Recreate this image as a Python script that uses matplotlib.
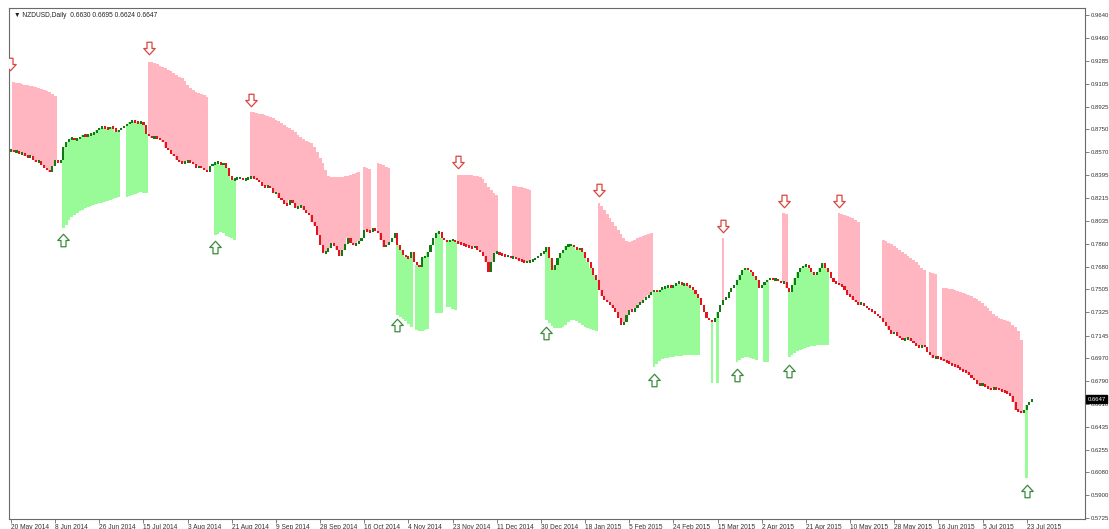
import numpy as np
import matplotlib
matplotlib.use("Agg")
import matplotlib.pyplot as plt
from matplotlib.path import Path
from matplotlib.transforms import blended_transform_factory

# ---------------- data ----------------
close = [
    0.8590,0.8574,0.8582,0.8559,0.8567,0.8543,0.8535,0.8543,0.8512,0.8496,0.8504,0.8473,0.8450,0.8434,0.8418,0.8465,
    0.8512,0.8489,0.8512,0.8613,0.8652,0.8675,0.8683,0.8667,0.8675,0.8691,0.8706,0.8698,0.8706,0.8714,0.8722,0.8745,
    0.8761,0.8768,0.8761,0.8753,0.8768,0.8761,0.8730,0.8745,0.8761,0.8776,0.8792,0.8807,0.8815,0.8807,0.8800,0.8807,
    0.8784,0.8714,0.8698,0.8683,0.8691,0.8683,0.8667,0.8652,0.8605,0.8590,0.8559,0.8543,0.8512,0.8496,0.8489,0.8496,
    0.8504,0.8496,0.8481,0.8450,0.8465,0.8450,0.8434,0.8418,0.8465,0.8481,0.8489,0.8496,0.8473,0.8489,0.8450,0.8387,
    0.8356,0.8364,0.8372,0.8372,0.8356,0.8364,0.8372,0.8380,0.8372,0.8356,0.8341,0.8310,0.8302,0.8310,0.8294,0.8255,
    0.8255,0.8217,0.8201,0.8170,0.8162,0.8201,0.8178,0.8139,0.8147,0.8154,0.8123,0.8100,0.8084,0.8030,0.7999,0.7929,
    0.7851,0.7789,0.7797,0.7828,0.7866,0.7843,0.7812,0.7765,0.7812,0.7858,0.7905,0.7866,0.7851,0.7858,0.7882,0.7905,
    0.7967,0.7960,0.7952,0.7983,0.7960,0.7944,0.7890,0.7835,0.7851,0.7874,0.7905,0.7944,0.7851,0.7812,0.7773,0.7757,
    0.7750,0.7796,0.7718,0.7695,0.7680,0.7757,0.7757,0.7796,0.7851,0.7905,0.7944,0.7952,0.7905,0.7890,0.7874,0.7890,
    0.7890,0.7874,0.7866,0.7858,0.7851,0.7843,0.7835,0.7828,0.7843,0.7812,0.7796,0.7765,0.7718,0.7640,0.7718,0.7789,
    0.7789,0.7781,0.7773,0.7765,0.7765,0.7750,0.7757,0.7742,0.7734,0.7726,0.7718,0.7718,0.7726,0.7734,0.7750,0.7765,
    0.7789,0.7796,0.7835,0.7750,0.7656,0.7695,0.7750,0.7789,0.7812,0.7843,0.7851,0.7851,0.7835,0.7812,0.7828,0.7796,
    0.7750,0.7718,0.7671,0.7617,0.7578,0.7501,0.7454,0.7423,0.7407,0.7384,0.7361,0.7330,0.7283,0.7228,0.7252,0.7306,
    0.7345,0.7330,0.7361,0.7384,0.7400,0.7423,0.7439,0.7462,0.7485,0.7501,0.7485,0.7501,0.7517,0.7524,0.7532,0.7517,
    0.7532,0.7548,0.7563,0.7540,0.7548,0.7532,0.7517,0.7501,0.7470,0.7439,0.7384,0.7330,0.7283,0.7267,0.7252,0.7283,
    0.7330,0.7384,0.7423,0.7439,0.7485,0.7517,0.7540,0.7578,0.7617,0.7656,0.7671,0.7656,0.7640,0.7609,0.7578,0.7517,
    0.7540,0.7563,0.7578,0.7594,0.7578,0.7586,0.7571,0.7555,0.7563,0.7517,0.7485,0.7540,0.7594,0.7640,0.7671,0.7687,
    0.7695,0.7671,0.7640,0.7617,0.7640,0.7671,0.7710,0.7671,0.7640,0.7594,0.7563,0.7555,0.7540,0.7532,0.7501,0.7462,
    0.7454,0.7423,0.7407,0.7384,0.7400,0.7376,0.7361,0.7345,0.7330,0.7314,0.7298,0.7283,0.7252,0.7221,0.7189,0.7158,
    0.7174,0.7143,0.7127,0.7112,0.7120,0.7127,0.7104,0.7088,0.7065,0.7050,0.7073,0.7057,0.7018,0.6995,0.6972,0.6980,
    0.6972,0.6964,0.6948,0.6941,0.6925,0.6917,0.6910,0.6894,0.6878,0.6871,0.6863,0.6839,0.6816,0.6800,0.6769,0.6762,
    0.6762,0.6746,0.6731,0.6723,0.6738,0.6731,0.6723,0.6715,0.6707,0.6692,0.6676,0.6629,0.6567,0.6552,0.6544,0.6567,
    0.6606,0.6630,0.6647,
]
first_open = 0.8582

# resistance (sell) stop segments: (first bar, levels)
sell_segments = [
    (1, [0.9119,0.9111,0.9111,0.9103,0.9096,0.9096,0.9088,0.9088,0.9080,0.9072,0.9064,0.9057,0.9049,0.9041,0.9026,0.9010]),
    (50, [0.9274,0.9274,0.9267,0.9259,0.9243,0.9235,0.9228,0.9212,0.9204,0.9189,0.9173,0.9158,0.9150,0.9126,0.9096,0.9072,
          0.9057,0.9041,0.9033,0.9026,0.9018,0.9002]),
    (87, [0.8885,0.8885,0.8877,0.8870,0.8870,0.8862,0.8854,0.8846,0.8839,0.8823,0.8815,0.8800,0.8784,0.8769,0.8761,0.8745,
          0.8730,0.8706,0.8691,0.8675,0.8660,0.8652,0.8644,0.8613,0.8574,0.8527,0.8489,0.8434,0.8387,0.8380,0.8380,0.8380,
          0.8380,0.8380,0.8387,0.8387,0.8395,0.8403,0.8411,0.8418]),
    (128, [0.8457,0.8450,0.8442]),
    (133, [0.8489,0.8481,0.8473,0.8457,0.8450]),
    (162, [0.8395,0.8395,0.8395,0.8395,0.8395,0.8395,0.8387,0.8387,0.8380,0.8364,0.8333,0.8302,0.8278,0.8255,0.8239]),
    (182, [0.8309,0.8309,0.8302,0.8302,0.8294,0.8286,0.8278]),
    (213, [0.8177,0.8153,0.8122,0.8091,0.8060,0.8029,0.7998,0.7967,0.7935,0.7904,0.7881,0.7873,0.7881,0.7889,0.7904,0.7912,
           0.7920,0.7928,0.7935,0.7943]),
    (258, [0.7904]),
    (280, [0.8099,0.8091]),
    (300, [0.8099,0.8091,0.8083,0.8075,0.8068,0.8060,0.8044,0.8029]),
    (316, [0.7889,0.7881,0.7866,0.7858,0.7842,0.7827,0.7811,0.7796,0.7780,0.7765,0.7749,0.7734,0.7718,0.7694,0.7671,0.7656]),
    (333, [0.7640,0.7632,0.7624]),
    (338, [0.7515,0.7515,0.7507,0.7507,0.7499,0.7492,0.7484,0.7476,0.7468,0.7461,0.7453,0.7437,0.7430,0.7414,0.7398,0.7375,
           0.7359,0.7336,0.7313,0.7297,0.7282,0.7274,0.7266,0.7258,0.7250,0.7227,0.7212,0.7180,0.7110]),
]

# support (buy) stop segments: (first bar, levels)
buy_segments = [
    (19, [0.7983,0.8006,0.8045,0.8069,0.8084,0.8100,0.8115,0.8123,0.8139,0.8147,0.8154,0.8162,0.8170,0.8178,0.8178,0.8185,
          0.8193,0.8201,0.8209,0.8217,0.8225]),
    (42, [0.8225,0.8232,0.8240,0.8248,0.8256,0.8263,0.8256,0.8256]),
    (74, [0.7929,0.7936,0.7952,0.7944,0.7921,0.7913,0.7905,0.7890]),
    (140, [0.7306,0.7291,0.7275,0.7260,0.7236,0.7213]),
    (147, [0.7189,0.7182,0.7182,0.7189,0.7197]),
    (154, [0.7320,0.7320,0.7320]),
    (158, [0.7367,0.7367]),
    (160, [0.7351,0.7343]),
    (194, [0.7266,0.7242,0.7219,0.7204,0.7204,0.7204,0.7212,0.7227,0.7250,0.7266,0.7266,0.7258,0.7242,0.7227,0.7212,0.7204,
           0.7196,0.7188,0.7180]),
    (233, [0.6900,0.6923,0.6947,0.6962,0.6970,0.6970,0.6978,0.6978,0.6986,0.6986,0.6986,0.6993,0.6993,0.6993,0.6993,0.6993,
           0.6993]),
    (254, [0.6775]),
    (256, [0.6775]),
    (263, [0.6939,0.6954,0.6970,0.6978,0.6978,0.6970,0.6962,0.6954]),
    (273, [0.6939,0.6939]),
    (282, [0.6978,0.6993,0.7009,0.7024,0.7032,0.7040,0.7048,0.7055,0.7063,0.7063,0.7071,0.7071,0.7071,0.7071,0.7071]),
    (368, [0.6036]),
]

down_arrow_bars = [-0.2, 50, 87, 162, 213, 258, 280, 300]
down_arrow_prices = [0.9259, 0.9383, 0.8978, 0.8496, 0.8278, 0.7998, 0.8192, 0.8192]
up_arrow_bars = [19, 74, 140, 194, 233, 263, 282, 368]
up_arrow_prices = [0.7889, 0.7834, 0.7227, 0.7165, 0.6799, 0.6838, 0.6869, 0.5935]

date_labels = ["20 May 2014", "8 Jun 2014", "26 Jun 2014", "15 Jul 2014", "3 Aug 2014", "21 Aug 2014",
               "9 Sep 2014", "28 Sep 2014", "16 Oct 2014", "4 Nov 2014", "23 Nov 2014", "11 Dec 2014",
               "30 Dec 2014", "18 Jan 2015", "5 Feb 2015", "24 Feb 2015", "15 Mar 2015", "2 Apr 2015",
               "21 Apr 2015", "10 May 2015", "28 May 2015", "16 Jun 2015", "5 Jul 2015", "23 Jul 2015"]
bars_per_label = 16

price_ticks = [0.9640, 0.9460, 0.9285, 0.9105, 0.8925, 0.8750, 0.8570, 0.8395, 0.8215, 0.8035, 0.7860,
               0.7680, 0.7505, 0.7325, 0.7145, 0.6970, 0.6790, 0.6610, 0.6435, 0.6255, 0.6080, 0.5900, 0.5725]

header = "\u25BC NZDUSD,Daily  0.6630 0.6695 0.6624 0.6647"
last_price = 0.6647

# ---------------- build ----------------
n = len(close)
close_a = np.array(close)
open_a = np.array([first_open] + close[:-1])
idx = np.arange(n)

W, H = 1109, 529
fig = plt.figure(figsize=(W / 100, H / 100), dpi=100)
fig.patch.set_facecolor("white")
ax_l, ax_r, ax_t, ax_b = 9, 1085, 8, 519
ax = fig.add_axes([ax_l / W, (H - ax_b) / H, (ax_r - ax_l) / W, (ax_b - ax_t) / H])

FONT = ["Liberation Sans", "DejaVu Sans"]
PINK = "#FFB6C1"
GREEN = "#98FB98"


def draw_band(segments, color):
    # histogram between the stop level and the close, one solid block per segment
    for s, vals in segments:
        k = len(vals)
        lev = np.array(vals + [vals[-1]])
        cl = np.append(close_a[s:s + k], close_a[s + k - 1])
        xs = np.arange(s, s + k + 1) - 0.5
        ax.fill_between(xs, lev, cl, step="post", facecolor=color, edgecolor="none",
                        linewidth=0, antialiased=False, zorder=1)


draw_band(sell_segments, PINK)
draw_band(buy_segments, GREEN)

# candles
bull = close_a >= open_a
lo = np.minimum(open_a, close_a)
hgt = np.abs(close_a - open_a)
min_h = 0.0020
lo = np.where(hgt < min_h, (open_a + close_a) / 2 - min_h / 2, lo)
hgt = np.maximum(hgt, min_h)
ax.bar(idx[bull], hgt[bull], bottom=lo[bull], width=0.75, color="#127a12", linewidth=0, zorder=3)
ax.bar(idx[~bull], hgt[~bull], bottom=lo[~bull], width=0.75, color="#e3141c", linewidth=0, zorder=3)

# arrows
down_path = Path([(-0.2, 0.5), (0.2, 0.5), (0.2, 0.0), (0.46, 0.0), (0.0, -0.5), (-0.46, 0.0), (-0.2, 0.0), (-0.2, 0.5)],
                 [Path.MOVETO] + [Path.LINETO] * 6 + [Path.CLOSEPOLY])
up_path = Path([(-0.2, -0.5), (0.2, -0.5), (0.2, 0.0), (0.46, 0.0), (0.0, 0.5), (-0.46, 0.0), (-0.2, 0.0), (-0.2, -0.5)],
               [Path.MOVETO] + [Path.LINETO] * 6 + [Path.CLOSEPOLY])
ax.plot(down_arrow_bars, down_arrow_prices, linestyle="none", marker=down_path, markersize=9,
        mfc="white", mec="#d8473f", mew=0.9, zorder=4)
ax.plot(up_arrow_bars, up_arrow_prices, linestyle="none", marker=up_path, markersize=9,
        mfc="white", mec="#3c8a3c", mew=0.9, zorder=4)

# limits: pixel mapping
px_per_bar = 2.76
x0_px = 11
ax.set_xlim((ax_l - x0_px) / px_per_bar, (ax_r - x0_px) / px_per_bar)
p_top, px_scale = 0.97568, 0.00077845
ax.set_ylim(p_top - px_scale * ax_b, p_top - px_scale * ax_t)

# axes styling
for sp in ax.spines.values():
    sp.set_color("#6a6a6a")
    sp.set_linewidth(0.8)
ax.yaxis.tick_right()
ax.set_yticks(price_ticks)
ax.set_yticklabels([f"{v:.4f}" for v in price_ticks])
ax.tick_params(axis="y", direction="out", length=3, width=0.6, color="#6a6a6a", pad=1,
               labelsize=4.3, labelcolor="#333333")
ax.set_xticks([i * bars_per_label for i in range(len(date_labels))])
ax.set_xticklabels(date_labels)
ax.tick_params(axis="x", direction="out", length=3, width=0.6, color="#6a6a6a", pad=0.5,
               labelsize=4.8, labelcolor="#333333")
for lab in ax.get_xticklabels():
    lab.set_horizontalalignment("left")
    lab.set_family(FONT)
for lab in ax.get_yticklabels():
    lab.set_family(FONT)

ax.text(0.0045, 0.986, header, transform=ax.transAxes, ha="left", va="center",
        fontsize=4.8, color="#222222", family=FONT)

trans = blended_transform_factory(ax.transAxes, ax.transData)
ax.text(1.0022, last_price, f"{last_price:.4f}", transform=trans, ha="left", va="center",
        fontsize=4.3, color="white", family=FONT, zorder=6,
        bbox=dict(boxstyle="square,pad=0.25", fc="black", ec="black"))

fig.savefig("out.png", dpi=100)
